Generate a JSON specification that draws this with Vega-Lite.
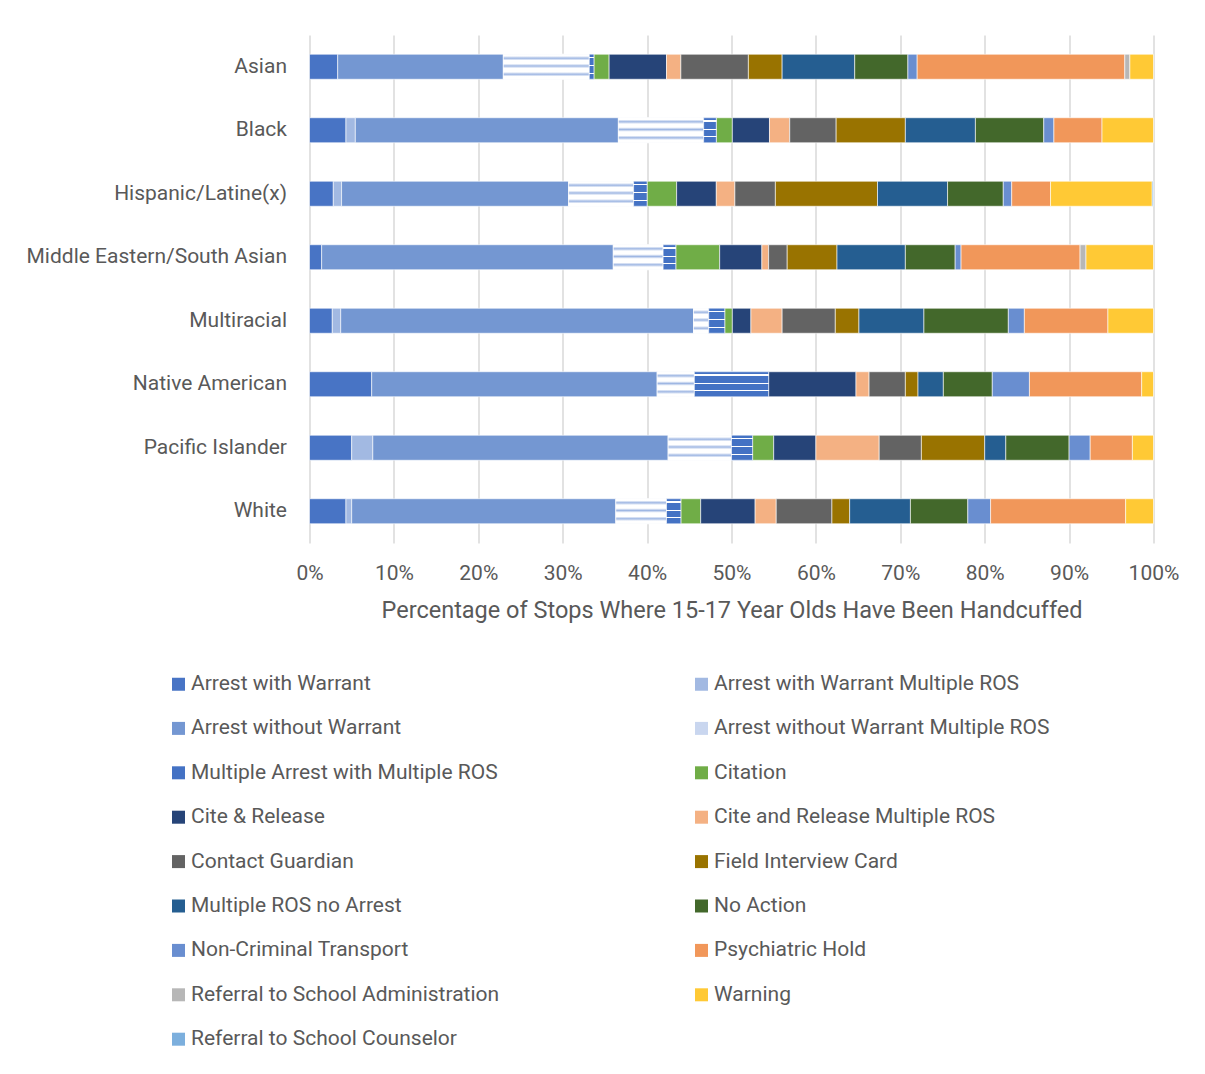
{
  "$schema": "https://vega.github.io/schema/vega-lite/v6.json",
  "width": 844,
  "height": 508,
  "autosize": {"type": "none"},
  "padding": {"left": 309.5, "top": 35, "right": 51.5, "bottom": 531},
  "background": "white",
  "config": {
    "font": "Roboto",
    "view": {"stroke": null},
    "axis": {"labelColor": "#595959", "titleColor": "#595959", "labelFontSize": 21, "titleFontSize": 23.5, "titleFontWeight": "normal", "ticks": false, "domain": false}
  },
  "datasets": {
    "order": [
      {"outcome": "Arrest with Warrant", "k": 1},
      {"outcome": "Arrest with Warrant Multiple ROS", "k": 2},
      {"outcome": "Arrest without Warrant", "k": 3},
      {"outcome": "Arrest without Warrant Multiple ROS", "k": 4},
      {"outcome": "Multiple Arrest with Multiple ROS", "k": 5},
      {"outcome": "Citation", "k": 6},
      {"outcome": "Cite & Release", "k": 7},
      {"outcome": "Cite and Release Multiple ROS", "k": 8},
      {"outcome": "Contact Guardian", "k": 9},
      {"outcome": "Field Interview Card", "k": 10},
      {"outcome": "Multiple ROS no Arrest", "k": 11},
      {"outcome": "No Action", "k": 12},
      {"outcome": "Non-Criminal Transport", "k": 13},
      {"outcome": "Psychiatric Hold", "k": 14},
      {"outcome": "Referral to School Administration", "k": 15},
      {"outcome": "Warning", "k": 16},
      {"outcome": "Referral to School Counselor", "k": 17}
    ]
  },
  "data": {"values": [
    {"race": "Asian", "outcome": "Arrest with Warrant", "pct": 3.34},
    {"race": "Asian", "outcome": "Arrest without Warrant", "pct": 19.63},
    {"race": "Asian", "outcome": "Arrest without Warrant Multiple ROS", "pct": 10.18},
    {"race": "Asian", "outcome": "Multiple Arrest with Multiple ROS", "pct": 0.55},
    {"race": "Asian", "outcome": "Citation", "pct": 1.8},
    {"race": "Asian", "outcome": "Cite & Release", "pct": 6.8},
    {"race": "Asian", "outcome": "Cite and Release Multiple ROS", "pct": 1.7},
    {"race": "Asian", "outcome": "Contact Guardian", "pct": 8.0},
    {"race": "Asian", "outcome": "Field Interview Card", "pct": 4.0},
    {"race": "Asian", "outcome": "Multiple ROS no Arrest", "pct": 8.6},
    {"race": "Asian", "outcome": "No Action", "pct": 6.3},
    {"race": "Asian", "outcome": "Non-Criminal Transport", "pct": 1.1},
    {"race": "Asian", "outcome": "Psychiatric Hold", "pct": 24.6},
    {"race": "Asian", "outcome": "Referral to School Administration", "pct": 0.6},
    {"race": "Asian", "outcome": "Warning", "pct": 2.8},

    {"race": "Black", "outcome": "Arrest with Warrant", "pct": 4.32},
    {"race": "Black", "outcome": "Arrest with Warrant Multiple ROS", "pct": 1.11},
    {"race": "Black", "outcome": "Arrest without Warrant", "pct": 31.17},
    {"race": "Black", "outcome": "Arrest without Warrant Multiple ROS", "pct": 10.1},
    {"race": "Black", "outcome": "Multiple Arrest with Multiple ROS", "pct": 1.5},
    {"race": "Black", "outcome": "Citation", "pct": 1.9},
    {"race": "Black", "outcome": "Cite & Release", "pct": 4.4},
    {"race": "Black", "outcome": "Cite and Release Multiple ROS", "pct": 2.4},
    {"race": "Black", "outcome": "Contact Guardian", "pct": 5.5},
    {"race": "Black", "outcome": "Field Interview Card", "pct": 8.2},
    {"race": "Black", "outcome": "Multiple ROS no Arrest", "pct": 8.3},
    {"race": "Black", "outcome": "No Action", "pct": 8.1},
    {"race": "Black", "outcome": "Non-Criminal Transport", "pct": 1.2},
    {"race": "Black", "outcome": "Psychiatric Hold", "pct": 5.7},
    {"race": "Black", "outcome": "Warning", "pct": 6.1},

    {"race": "Hispanic/Latine(x)", "outcome": "Arrest with Warrant", "pct": 2.82},
    {"race": "Hispanic/Latine(x)", "outcome": "Arrest with Warrant Multiple ROS", "pct": 0.98},
    {"race": "Hispanic/Latine(x)", "outcome": "Arrest without Warrant", "pct": 26.9},
    {"race": "Hispanic/Latine(x)", "outcome": "Arrest without Warrant Multiple ROS", "pct": 7.7},
    {"race": "Hispanic/Latine(x)", "outcome": "Multiple Arrest with Multiple ROS", "pct": 1.6},
    {"race": "Hispanic/Latine(x)", "outcome": "Citation", "pct": 3.5},
    {"race": "Hispanic/Latine(x)", "outcome": "Cite & Release", "pct": 4.7},
    {"race": "Hispanic/Latine(x)", "outcome": "Cite and Release Multiple ROS", "pct": 2.2},
    {"race": "Hispanic/Latine(x)", "outcome": "Contact Guardian", "pct": 4.8},
    {"race": "Hispanic/Latine(x)", "outcome": "Field Interview Card", "pct": 12.1},
    {"race": "Hispanic/Latine(x)", "outcome": "Multiple ROS no Arrest", "pct": 8.3},
    {"race": "Hispanic/Latine(x)", "outcome": "No Action", "pct": 6.6},
    {"race": "Hispanic/Latine(x)", "outcome": "Non-Criminal Transport", "pct": 1.0},
    {"race": "Hispanic/Latine(x)", "outcome": "Psychiatric Hold", "pct": 4.6},
    {"race": "Hispanic/Latine(x)", "outcome": "Warning", "pct": 12.05},
    {"race": "Hispanic/Latine(x)", "outcome": "Referral to School Counselor", "pct": 0.15},

    {"race": "Middle Eastern/South Asian", "outcome": "Arrest with Warrant", "pct": 1.44},
    {"race": "Middle Eastern/South Asian", "outcome": "Arrest without Warrant", "pct": 34.56},
    {"race": "Middle Eastern/South Asian", "outcome": "Arrest without Warrant Multiple ROS", "pct": 5.9},
    {"race": "Middle Eastern/South Asian", "outcome": "Multiple Arrest with Multiple ROS", "pct": 1.5},
    {"race": "Middle Eastern/South Asian", "outcome": "Citation", "pct": 5.2},
    {"race": "Middle Eastern/South Asian", "outcome": "Cite & Release", "pct": 5.0},
    {"race": "Middle Eastern/South Asian", "outcome": "Cite and Release Multiple ROS", "pct": 0.8},
    {"race": "Middle Eastern/South Asian", "outcome": "Contact Guardian", "pct": 2.2},
    {"race": "Middle Eastern/South Asian", "outcome": "Field Interview Card", "pct": 5.9},
    {"race": "Middle Eastern/South Asian", "outcome": "Multiple ROS no Arrest", "pct": 8.1},
    {"race": "Middle Eastern/South Asian", "outcome": "No Action", "pct": 5.9},
    {"race": "Middle Eastern/South Asian", "outcome": "Non-Criminal Transport", "pct": 0.7},
    {"race": "Middle Eastern/South Asian", "outcome": "Psychiatric Hold", "pct": 14.1},
    {"race": "Middle Eastern/South Asian", "outcome": "Referral to School Administration", "pct": 0.7},
    {"race": "Middle Eastern/South Asian", "outcome": "Warning", "pct": 8.0},

    {"race": "Multiracial", "outcome": "Arrest with Warrant", "pct": 2.7},
    {"race": "Multiracial", "outcome": "Arrest with Warrant Multiple ROS", "pct": 1.0},
    {"race": "Multiracial", "outcome": "Arrest without Warrant", "pct": 41.8},
    {"race": "Multiracial", "outcome": "Arrest without Warrant Multiple ROS", "pct": 1.8},
    {"race": "Multiracial", "outcome": "Multiple Arrest with Multiple ROS", "pct": 1.9},
    {"race": "Multiracial", "outcome": "Citation", "pct": 0.9},
    {"race": "Multiracial", "outcome": "Cite & Release", "pct": 2.2},
    {"race": "Multiracial", "outcome": "Cite and Release Multiple ROS", "pct": 3.7},
    {"race": "Multiracial", "outcome": "Contact Guardian", "pct": 6.3},
    {"race": "Multiracial", "outcome": "Field Interview Card", "pct": 2.8},
    {"race": "Multiracial", "outcome": "Multiple ROS no Arrest", "pct": 7.7},
    {"race": "Multiracial", "outcome": "No Action", "pct": 10.0},
    {"race": "Multiracial", "outcome": "Non-Criminal Transport", "pct": 1.9},
    {"race": "Multiracial", "outcome": "Psychiatric Hold", "pct": 9.9},
    {"race": "Multiracial", "outcome": "Warning", "pct": 5.4},

    {"race": "Native American", "outcome": "Arrest with Warrant", "pct": 7.37},
    {"race": "Native American", "outcome": "Arrest without Warrant", "pct": 33.83},
    {"race": "Native American", "outcome": "Arrest without Warrant Multiple ROS", "pct": 4.4},
    {"race": "Native American", "outcome": "Multiple Arrest with Multiple ROS", "pct": 8.8},
    {"race": "Native American", "outcome": "Cite & Release", "pct": 10.35},
    {"race": "Native American", "outcome": "Cite and Release Multiple ROS", "pct": 1.55},
    {"race": "Native American", "outcome": "Contact Guardian", "pct": 4.3},
    {"race": "Native American", "outcome": "Field Interview Card", "pct": 1.5},
    {"race": "Native American", "outcome": "Multiple ROS no Arrest", "pct": 3.0},
    {"race": "Native American", "outcome": "No Action", "pct": 5.8},
    {"race": "Native American", "outcome": "Non-Criminal Transport", "pct": 4.4},
    {"race": "Native American", "outcome": "Psychiatric Hold", "pct": 13.3},
    {"race": "Native American", "outcome": "Warning", "pct": 1.4},

    {"race": "Pacific Islander", "outcome": "Arrest with Warrant", "pct": 5.0},
    {"race": "Pacific Islander", "outcome": "Arrest with Warrant Multiple ROS", "pct": 2.5},
    {"race": "Pacific Islander", "outcome": "Arrest without Warrant", "pct": 35.0},
    {"race": "Pacific Islander", "outcome": "Arrest without Warrant Multiple ROS", "pct": 7.5},
    {"race": "Pacific Islander", "outcome": "Multiple Arrest with Multiple ROS", "pct": 2.5},
    {"race": "Pacific Islander", "outcome": "Citation", "pct": 2.5},
    {"race": "Pacific Islander", "outcome": "Cite & Release", "pct": 5.0},
    {"race": "Pacific Islander", "outcome": "Cite and Release Multiple ROS", "pct": 7.5},
    {"race": "Pacific Islander", "outcome": "Contact Guardian", "pct": 5.0},
    {"race": "Pacific Islander", "outcome": "Field Interview Card", "pct": 7.5},
    {"race": "Pacific Islander", "outcome": "Multiple ROS no Arrest", "pct": 2.5},
    {"race": "Pacific Islander", "outcome": "No Action", "pct": 7.5},
    {"race": "Pacific Islander", "outcome": "Non-Criminal Transport", "pct": 2.5},
    {"race": "Pacific Islander", "outcome": "Psychiatric Hold", "pct": 5.0},
    {"race": "Pacific Islander", "outcome": "Warning", "pct": 2.5},

    {"race": "White", "outcome": "Arrest with Warrant", "pct": 4.32},
    {"race": "White", "outcome": "Arrest with Warrant Multiple ROS", "pct": 0.68},
    {"race": "White", "outcome": "Arrest without Warrant", "pct": 31.3},
    {"race": "White", "outcome": "Arrest without Warrant Multiple ROS", "pct": 6.0},
    {"race": "White", "outcome": "Multiple Arrest with Multiple ROS", "pct": 1.7},
    {"race": "White", "outcome": "Citation", "pct": 2.35},
    {"race": "White", "outcome": "Cite & Release", "pct": 6.45},
    {"race": "White", "outcome": "Cite and Release Multiple ROS", "pct": 2.5},
    {"race": "White", "outcome": "Contact Guardian", "pct": 6.6},
    {"race": "White", "outcome": "Field Interview Card", "pct": 2.1},
    {"race": "White", "outcome": "Multiple ROS no Arrest", "pct": 7.2},
    {"race": "White", "outcome": "No Action", "pct": 6.8},
    {"race": "White", "outcome": "Non-Criminal Transport", "pct": 2.7},
    {"race": "White", "outcome": "Psychiatric Hold", "pct": 16.0},
    {"race": "White", "outcome": "Warning", "pct": 3.3}
  ]},
  "transform": [
    {"lookup": "outcome", "from": {"data": {"name": "order"}, "key": "outcome", "fields": ["k"]}},
    {"stack": "pct", "groupby": ["race"], "sort": [{"field": "k", "order": "ascending"}], "offset": "normalize", "as": ["x0", "x1"]}
  ],
  "encoding": {
    "y": {
      "field": "race", "type": "nominal",
      "sort": ["Asian", "Black", "Hispanic/Latine(x)", "Middle Eastern/South Asian", "Multiracial", "Native American", "Pacific Islander", "White"],
      "scale": {"paddingInner": 0.606, "paddingOuter": 0.303},
      "axis": {"title": null, "labelPadding": 23, "grid": false, "labelLimit": 400}
    },
    "x": {
      "field": "x0", "type": "quantitative",
      "scale": {"domain": [0, 1], "nice": false},
      "axis": {
        "title": "Percentage of Stops Where 15-17 Year Olds Have Been Handcuffed",
        "format": ".0%", "values": [0, 0.1, 0.2, 0.3, 0.4, 0.5, 0.6, 0.7, 0.8, 0.9, 1],
        "labelFlush": false, "labelOverlap": false,
        "grid": true, "gridColor": "#D9D9D9", "gridWidth": 1.5,
        "labelPadding": 19, "titlePadding": 15
      }
    },
    "x2": {"field": "x1"}
  },
  "layer": [
    {
      "mark": {"type": "bar", "stroke": "white", "strokeWidth": 0.6},
      "encoding": {
        "color": {
          "field": "outcome", "type": "nominal",
          "scale": {
            "domain": ["Arrest with Warrant", "Arrest with Warrant Multiple ROS", "Arrest without Warrant", "Arrest without Warrant Multiple ROS", "Multiple Arrest with Multiple ROS", "Citation", "Cite & Release", "Cite and Release Multiple ROS", "Contact Guardian", "Field Interview Card", "Multiple ROS no Arrest", "No Action", "Non-Criminal Transport", "Psychiatric Hold", "Referral to School Administration", "Warning", "Referral to School Counselor"],
            "range": ["#4874C5", "#A2B9E2", "#7497D2", "#C9D6EF", "#4472C4", "#70AD47", "#264478", "#F4B183", "#636363", "#997300", "#255E91", "#43682B", "#698ED0", "#F1975A", "#B7B7B7", "#FFC935", "#7CAFDD"]
          },
          "legend": {
            "title": null, "orient": "none", "legendX": -141.5, "legendY": 638.5,
            "direction": "horizontal", "columns": 2, "columnPadding": 191, "rowPadding": 22.4, "padding": 0,
            "symbolType": "square", "symbolSize": 169, "symbolStrokeWidth": 0,
            "labelFontSize": 21, "labelColor": "#595959", "labelOffset": 2, "labelLimit": 500
          }
        }
      }
    },
    {
      "transform": [{"filter": {"field": "outcome", "equal": "Arrest without Warrant Multiple ROS"}}],
      "mark": {"type": "bar", "stroke": "white", "strokeWidth": 0.6, "color": {"gradient": "linear", "x1": 0, "y1": 0, "x2": 0, "y2": 1, "stops": [
        {"offset": 0, "color": "#ffffff"},
        {"offset": 0.07, "color": "#ffffff"},
        {"offset": 0.16, "color": "#9FB7E3"},
        {"offset": 0.25, "color": "#ffffff"},
        {"offset": 0.38, "color": "#ffffff"},
        {"offset": 0.47, "color": "#9FB7E3"},
        {"offset": 0.56, "color": "#ffffff"},
        {"offset": 0.71, "color": "#ffffff"},
        {"offset": 0.8, "color": "#9FB7E3"},
        {"offset": 0.89, "color": "#ffffff"},
        {"offset": 1, "color": "#ffffff"}
      ]}}
    },
    {
      "transform": [{"filter": {"field": "outcome", "equal": "Multiple Arrest with Multiple ROS"}}],
      "mark": {"type": "bar", "stroke": "white", "strokeWidth": 0.6, "color": {"gradient": "linear", "x1": 0, "y1": 0, "x2": 0, "y2": 1, "stops": [
        {"offset": 0, "color": "#4472C4"},
        {"offset": 0.11, "color": "#4472C4"},
        {"offset": 0.11, "color": "#ffffff"},
        {"offset": 0.16, "color": "#ffffff"},
        {"offset": 0.16, "color": "#4472C4"},
        {"offset": 0.44, "color": "#4472C4"},
        {"offset": 0.44, "color": "#ffffff"},
        {"offset": 0.49, "color": "#ffffff"},
        {"offset": 0.49, "color": "#4472C4"},
        {"offset": 0.73, "color": "#4472C4"},
        {"offset": 0.73, "color": "#ffffff"},
        {"offset": 0.78, "color": "#ffffff"},
        {"offset": 0.78, "color": "#4472C4"},
        {"offset": 1, "color": "#4472C4"}
      ]}}
    }
  ]
}
